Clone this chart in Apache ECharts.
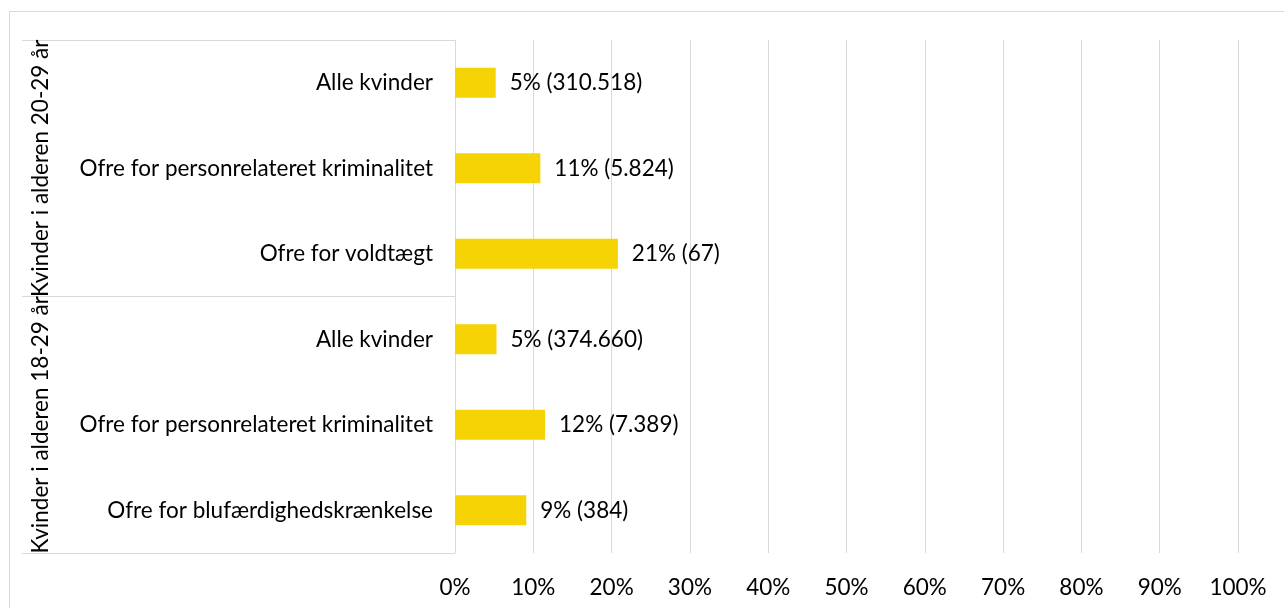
<!DOCTYPE html>
<html lang="da">
<head>
    <meta charset="UTF-8">
    <title>Kvinder i alderen</title>
    <style type="text/css">
        body {
            margin: 0;
            background: #fff;
        }

        .frame {
            position: absolute;
            left: 9px;
            top: 11px;
            width: 1400px;
            height: 700px;
            border-left: 1px solid #d9d9d9;
            border-top: 1px solid #d9d9d9;
        }

        #chart {
            position: absolute;
            left: 0;
            top: 0;
            width: 1284px;
            height: 608px;
        }
    </style>
    <script type="text/javascript" src="https://cdn.jsdelivr.net/npm/echarts@6/dist/echarts.min.js"></script>
</head>
<body>
    <div class="frame"></div>
    <div id="chart"></div>
</body>
</html>
<script type="text/javascript">
    var groups = ['Kvinder i alderen 20-29 år', 'Kvinder i alderen 18-29 år'];
    var categories = [
        'Alle kvinder',
        'Ofre for personrelateret kriminalitet',
        'Ofre for voldtægt',
        'Alle kvinder',
        'Ofre for personrelateret kriminalitet',
        'Ofre for blufærdighedskrænkelse'
    ];
    var shares = [5.2, 10.9, 20.8, 5.3, 11.5, 9.1];
    var counts = ['310.518', '5.824', '67', '374.660', '7.389', '384'];

    var font = 'Lato';
    var fontSize = 22.5;
    var lineColor = '#d9d9d9';

    var chart = echarts.init(document.getElementById('chart'));
    var option = {
        animation: false,
        textStyle: {
            fontFamily: font
        },
        grid: {
            left: 455,
            right: 46,
            top: 40,
            bottom: 55
        },
        xAxis: {
            type: 'value',
            min: 0,
            max: 100,
            interval: 10,
            axisLine: { show: false },
            axisTick: { show: false },
            axisLabel: {
                formatter: '{value}%',
                color: '#000',
                fontSize: fontSize,
                fontFamily: font,
                margin: 23
            },
            splitLine: {
                show: true,
                lineStyle: { color: lineColor, width: 1 }
            }
        },
        yAxis: [{
            type: 'category',
            data: categories,
            inverse: true,
            axisLine: {
                show: true,
                lineStyle: { color: lineColor }
            },
            axisTick: { show: false },
            axisLabel: {
                interval: 0,
                color: '#000',
                fontSize: fontSize,
                fontFamily: font,
                margin: 22
            }
        }, {
            type: 'category',
            data: groups,
            inverse: true,
            position: 'left',
            axisLine: { show: false },
            axisTick: {
                show: true,
                interval: 0,
                length: 433,
                lineStyle: { color: lineColor }
            },
            axisLabel: {
                interval: 0,
                hideOverlap: false,
                rotate: 90,
                color: '#000',
                fontSize: fontSize,
                fontFamily: font,
                margin: 403
            }
        }],
        series: [{
            type: 'bar',
            yAxisIndex: 0,
            data: shares,
            barWidth: 30,
            itemStyle: { color: '#F5D304' },
            label: {
                show: true,
                position: 'right',
                distance: 14,
                color: '#000',
                fontSize: fontSize,
                fontFamily: font,
                formatter: function (p) {
                    return Math.round(p.value) + '% (' + counts[p.dataIndex] + ')';
                }
            }
        }]
    };
    chart.setOption(option);
</script>
